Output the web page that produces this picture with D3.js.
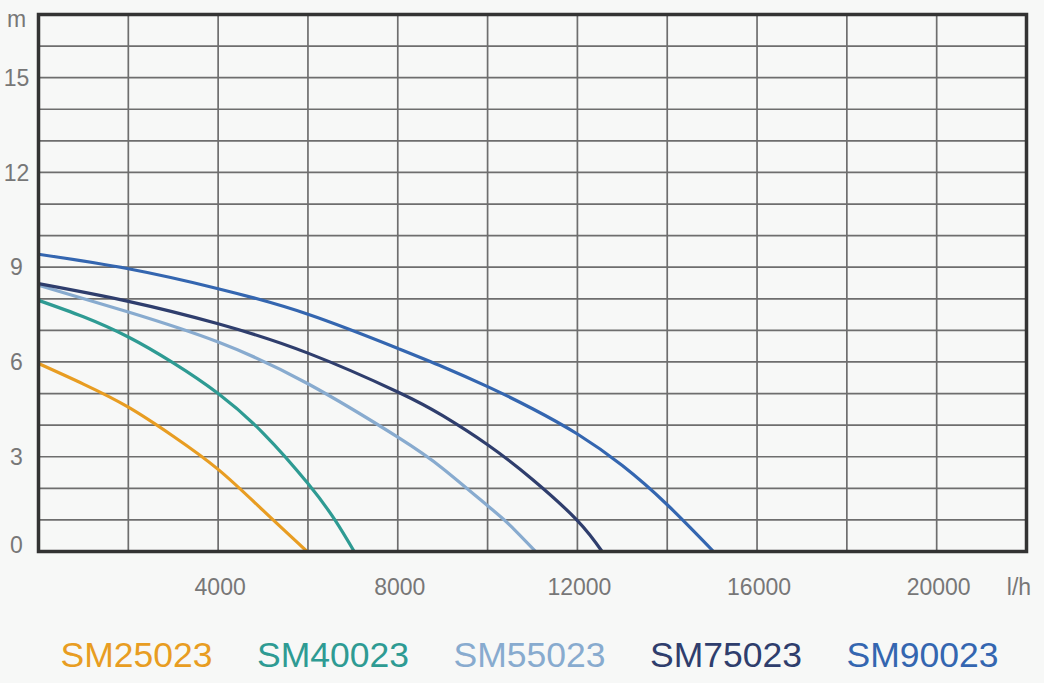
<!DOCTYPE html>
<meta charset="utf-8">
<body style="margin:0;background:#f7f8f7">
<script src="https://d3js.org/d3.v7.min.js"></script>
<div id="chart"></div>
<script>
// series names and colours
var names = ["SM25023", "SM40023", "SM55023", "SM75023", "SM90023"];
var colors = ["#e89d22", "#2e9b93", "#88abcf", "#2f3e6d", "#3466b0"];

// flow (l/h) and head (m)
var flow25 = [0, 1000, 2000, 3000, 4000, 5000, 5980];
var head25 = [5.95, 5.3, 4.57, 3.65, 2.6, 1.3, 0];
var flow40 = [0, 1000, 2000, 3000, 4000, 5000, 6000, 6600, 7030];
var head40 = [7.95, 7.43, 6.79, 5.97, 5.0, 3.75, 2.15, 1.0, 0];
var flow55 = [0, 2000, 4000, 6000, 8000, 9000, 10000, 10500, 11070];
var head55 = [8.43, 7.58, 6.63, 5.31, 3.62, 2.63, 1.45, 0.83, 0];
var flow75 = [0, 2000, 4000, 6000, 8000, 9000, 10000, 11000, 12000, 12550];
var head75 = [8.48, 7.92, 7.21, 6.28, 5.05, 4.3, 3.38, 2.28, 0.98, 0];
var flow90 = [0, 2000, 4000, 6000, 8000, 9000, 10000, 11000, 12000, 13000, 14000, 15030];
var head90 = [9.41, 8.95, 8.32, 7.51, 6.43, 5.85, 5.22, 4.52, 3.72, 2.72, 1.48, 0];

var xTicks = [4000, 8000, 12000, 16000, 20000];
var yTicks = [3, 6, 9, 12, 15];

var series = [
  d3.zip(flow25, head25), d3.zip(flow40, head40), d3.zip(flow55, head55),
  d3.zip(flow75, head75), d3.zip(flow90, head90)
];

var W = 1044, H = 683;
var svg = d3.select("#chart").append("svg")
    .attr("width", W).attr("height", H)
    .style("font-family", "'Liberation Sans', Arial, sans-serif");

var x = d3.scaleLinear().domain([0, 22000]).range([38.5, 1026.5]);
var y = d3.scaleLinear().domain([0, 17]).range([551.5, 14.5]);

// grid
svg.append("g").selectAll("line.v")
  .data(d3.range(2000, 22000, 2000))
  .enter().append("line")
    .attr("x1", d => x(d)).attr("x2", d => x(d))
    .attr("y1", y(17)).attr("y2", y(0))
    .attr("stroke", "#6e6e6e").attr("stroke-width", 1.7);
svg.append("g").selectAll("line.h")
  .data(d3.range(1, 17))
  .enter().append("line")
    .attr("x1", x(0)).attr("x2", x(22000))
    .attr("y1", d => y(d)).attr("y2", d => y(d))
    .attr("stroke", "#6e6e6e").attr("stroke-width", 1.7);

// curves
var line = d3.line()
    .x(d => x(d[0]))
    .y(d => y(d[1]))
    .curve(d3.curveNatural);

svg.append("g").selectAll("path")
  .data(series)
  .enter().append("path")
    .attr("d", line)
    .attr("fill", "none")
    .attr("stroke", (d, i) => colors[i])
    .attr("stroke-width", 3.2);

// frame
svg.append("rect")
    .attr("x", x(0)).attr("y", y(17))
    .attr("width", x(22000) - x(0)).attr("height", y(0) - y(17))
    .attr("fill", "none").attr("stroke", "#333").attr("stroke-width", 3.5);

// y labels
svg.append("g").selectAll("text")
  .data(yTicks)
  .enter().append("text")
    .attr("x", 16.5).attr("y", d => y(d))
    .attr("dy", "0.36em")
    .attr("text-anchor", "middle")
    .attr("fill", "#777").style("font-size", "23px")
    .text(d => d);
svg.append("text")
    .attr("x", 16.5).attr("y", 553)
    .attr("text-anchor", "middle")
    .attr("fill", "#777").style("font-size", "23px")
    .text("0");
svg.append("text")
    .attr("x", 16.5).attr("y", 26.5)
    .attr("text-anchor", "middle")
    .attr("fill", "#777").style("font-size", "23px")
    .text("m");

// x labels
svg.append("g").selectAll("text")
  .data(xTicks)
  .enter().append("text")
    .attr("x", d => x(d) + 2).attr("y", 595)
    .attr("text-anchor", "middle")
    .attr("fill", "#777").style("font-size", "23px")
    .text(d => d);
svg.append("text")
    .attr("x", 1019).attr("y", 595)
    .attr("text-anchor", "middle")
    .attr("fill", "#777").style("font-size", "23px")
    .text("l/h");

// legend
svg.append("g").selectAll("text")
  .data(names)
  .enter().append("text")
    .attr("x", (d, i) => 136.5 + i * 196.5).attr("y", 666.5)
    .attr("text-anchor", "middle")
    .attr("fill", (d, i) => colors[i])
    .style("font-size", "35.5px")
    .text(d => d);
</script>
</body>
